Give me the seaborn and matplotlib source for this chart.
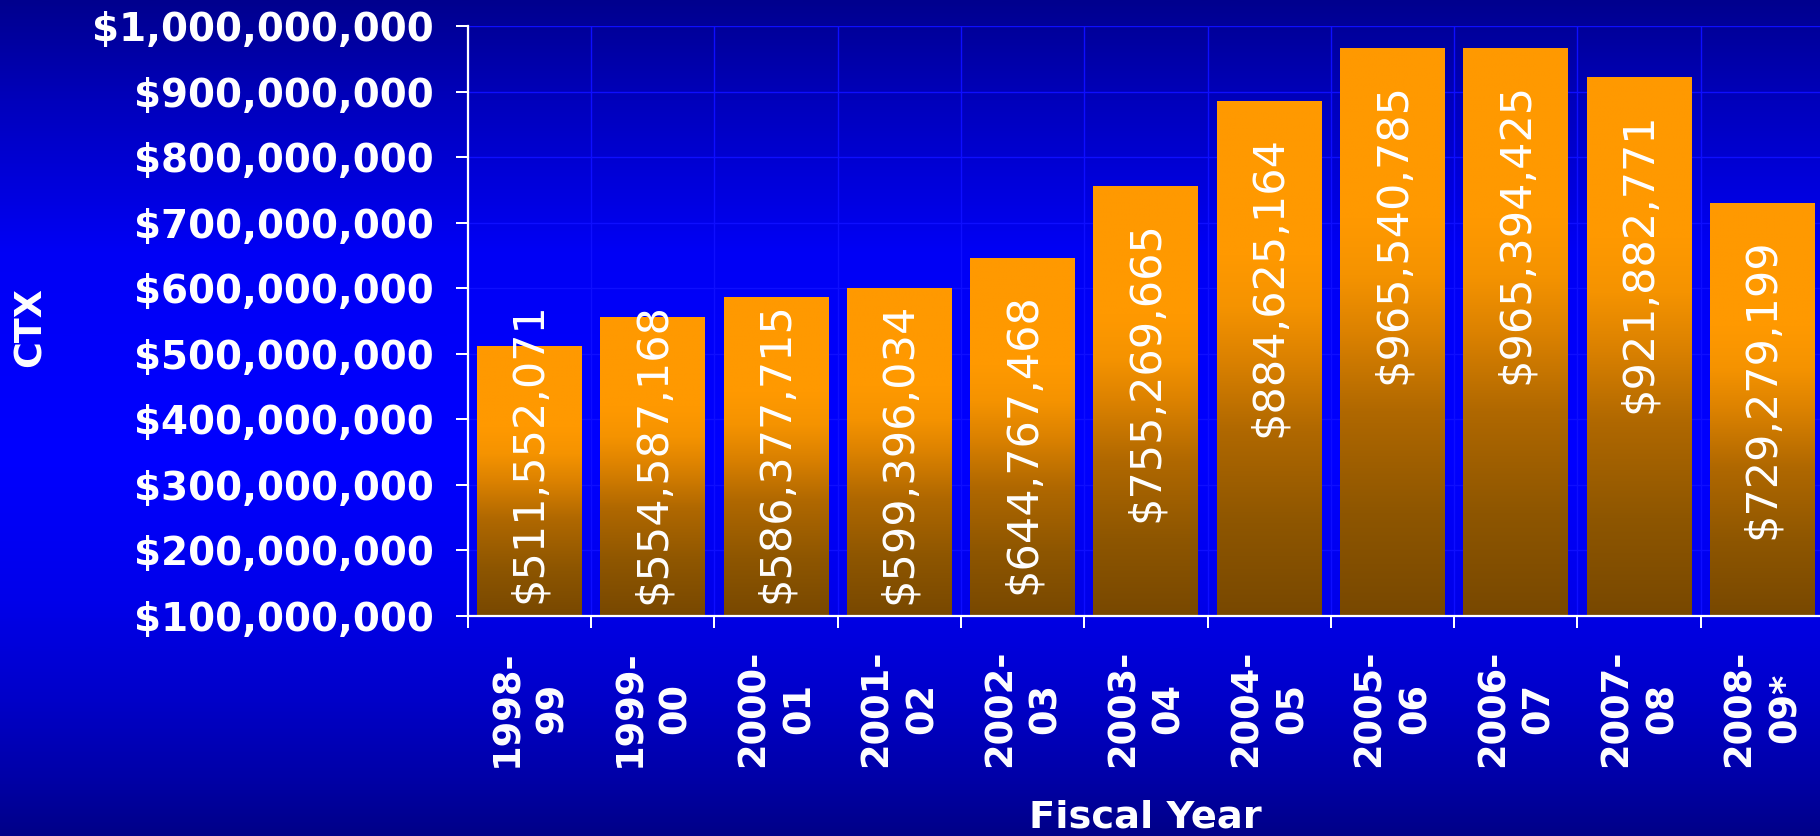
import numpy as np
import matplotlib
matplotlib.use("Agg")
import matplotlib.pyplot as plt
import seaborn as sns
from matplotlib.colors import LinearSegmentedColormap

# ---------------- data ----------------
categories = ["1998-\n99", "1999-\n00", "2000-\n01", "2001-\n02", "2002-\n03",
              "2003-\n04", "2004-\n05", "2005-\n06", "2006-\n07", "2007-\n08",
              "2008-\n09*"]
values = [511552071, 554587168, 586377715, 599396034, 644767468, 755269665,
          884625164, 965540785, 965394425, 921882771, 729279199]
y_ticks = [100000000, 200000000, 300000000, 400000000, 500000000,
           600000000, 700000000, 800000000, 900000000, 1000000000]
x_title = "Fiscal Year"
y_title = "CTX"

# ---------------- style ----------------
plt.rcParams["font.family"] = ["DejaVu Sans"]
W, H = 1820, 836
fig = plt.figure(figsize=(W / 100, H / 100), dpi=100)

# background vertical gradient (dark navy -> bright blue -> dark navy)
bg_cmap = LinearSegmentedColormap.from_list("bg", [
    (0.00, "#00008E"), (0.12, "#0000BC"), (0.30, "#0000F5"),
    (0.55, "#0000FF"), (0.72, "#0000EA"), (0.84, "#0000C8"),
    (0.93, "#0000A8"), (1.00, "#000088")])
bg = fig.add_axes([0, 0, 1, 1])
bg.imshow(np.linspace(0, 1, 512).reshape(-1, 1), aspect="auto", cmap=bg_cmap,
          extent=[0, 1, 0, 1], origin="upper", interpolation="bilinear")
bg.axis("off")
bg.set_zorder(-1)

# main axes
ax_left, ax_right, ax_top, ax_bottom = 467.7, 1824.0, 26.0, 616.0
ax = fig.add_axes([ax_left / W, (H - ax_bottom) / H,
                   (ax_right - ax_left) / W, (ax_bottom - ax_top) / H])
ax.set_zorder(1)
ax.patch.set_alpha(0)

sns.barplot(x=categories, y=values, ax=ax, color="#FF9900", saturation=1,
            width=0.85, edgecolor="none", linewidth=0, order=categories)

ymin, ymax = y_ticks[0], y_ticks[-1]

# gradient fill for every bar (orange top -> brown bottom)
bar_cmap = LinearSegmentedColormap.from_list("bar", [
    (0.00, "#784800"), (0.18, "#8E5600"), (0.36, "#B06800"),
    (0.50, "#DC8200"), (0.60, "#F59300"), (0.70, "#FF9900"), (1.00, "#FF9900")])
grad = np.linspace(0, 1, 256).reshape(-1, 1)
for p in list(ax.patches):
    x0, w, h = p.get_x(), p.get_width(), p.get_height()
    ax.imshow(grad, extent=[x0, x0 + w, ymin, h], origin="lower", aspect="auto",
              cmap=bar_cmap, zorder=p.get_zorder() + 0.01, interpolation="bilinear")

n = len(categories)
ax.set_xlim(-0.5, n - 0.5)
ax.set_ylim(ymin, ymax)

# value labels inside bars
px_per_unit = (ax_bottom - ax_top) / (ymax - ymin)
label_drop = 185 / px_per_unit          # label centre below bar top
label_floor = ymin + 163 / px_per_unit  # lowest allowed label centre
for i, v in enumerate(values):
    yc = max(v - label_drop, label_floor)
    ax.text(i, yc, f"${v:,}", rotation=90, ha="center", va="center",
            color="white", fontsize=31, zorder=6)

# x ticks: marks at category boundaries, labels at centres
ax.set_xticks(np.arange(-0.5, n, 1.0))
ax.set_xticklabels([])
ax.set_xticks(np.arange(n), minor=True)
ax.set_xticklabels(categories, minor=True, rotation=90, ha="center", va="top",
                   multialignment="center", linespacing=1.3, fontsize=26.5,
                   fontweight="bold", color="white")
ax.tick_params(axis="x", which="major", length=8.6, width=1.44, color="white",
               direction="out")
ax.tick_params(axis="x", which="minor", length=0, pad=24)

# y ticks
ax.set_yticks(y_ticks)
ax.set_yticklabels([f"${t:,}" for t in y_ticks], fontsize=28,
                   fontweight="bold", color="white")
ax.tick_params(axis="y", which="major", length=8.6, width=1.44, color="white",
               direction="out", pad=15.5)

# grid (faint)
ax.grid(True, which="major", axis="both", color="#0E0EFF", lw=1.0)
ax.set_axisbelow(True)

for s in ["top", "right"]:
    ax.spines[s].set_visible(False)
for s in ["left", "bottom"]:
    ax.spines[s].set_color("white")
    ax.spines[s].set_linewidth(1.6)

# axis titles
ax.set_xlabel(x_title, fontsize=27.6, fontweight="bold", color="white", va="center")
ax.xaxis.set_label_coords(0.5, (ax_bottom - 818) / (ax_bottom - ax_top))
ax.set_ylabel(y_title, fontsize=26.3, fontweight="bold", color="white", va="center")
ax.yaxis.set_label_coords((30 - ax_left) / (ax_right - ax_left),
                          (ax_bottom - 327) / (ax_bottom - ax_top))

fig.savefig("out.png", dpi=100)
